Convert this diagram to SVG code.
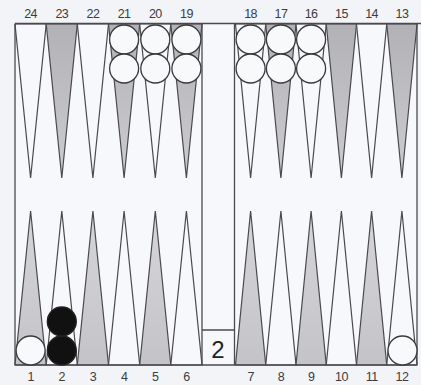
<svg xmlns="http://www.w3.org/2000/svg" width="421" height="385" viewBox="0 0 421 385">
<defs>
<linearGradient id="gt" x1="0" y1="0" x2="0" y2="1"><stop offset="0" stop-color="#b2b2b6"/><stop offset="1" stop-color="#cdcdd1"/></linearGradient>
<linearGradient id="gb" x1="0" y1="1" x2="0" y2="0"><stop offset="0" stop-color="#c4c4c8"/><stop offset="1" stop-color="#d6d6da"/></linearGradient>
</defs>
<style>
.w{fill:#f7f8fb;stroke:#4a4a4e;stroke-width:1.2}
.gt{fill:url(#gt);stroke:#4a4a4e;stroke-width:1.2}
.gb{fill:url(#gb);stroke:#4a4a4e;stroke-width:1.2}
.ln{stroke:#4a4a4e;stroke-width:1.3;fill:none}
.cw{fill:#f8f9fb;stroke:#3a3a3e;stroke-width:1.3}
.cb{fill:#111;stroke:#222;stroke-width:1.3}
.lab{font-family:"Liberation Sans",Arial,sans-serif;font-size:12.5px;fill:#3c3c40;text-anchor:middle;letter-spacing:-0.6px}
.die{font-family:"Liberation Sans",Arial,sans-serif;font-size:24px;fill:#222;text-anchor:middle}
</style>
<rect width="421" height="385" fill="#f2f4f8"/>
<g id="board">
<rect x="15" y="24" width="402" height="341" fill="#f7f8fb"/>
<polygon class="w" points="15,24 46.2,24 30.6,178"/>
<polygon class="gt" points="46.2,24 77.3,24 61.8,178"/>
<polygon class="w" points="77.3,24 108.5,24 92.9,178"/>
<polygon class="gt" points="108.5,24 139.7,24 124.1,178"/>
<polygon class="w" points="139.7,24 170.8,24 155.3,178"/>
<polygon class="gt" points="170.8,24 202,24 186.4,178"/>
<polygon class="w" points="235.5,24 265.75,24 250.6,178"/>
<polygon class="gt" points="265.75,24 296,24 280.9,178"/>
<polygon class="w" points="296,24 326.25,24 311.1,178"/>
<polygon class="gt" points="326.25,24 356.5,24 341.4,178"/>
<polygon class="w" points="356.5,24 386.75,24 371.6,178"/>
<polygon class="gt" points="386.75,24 417,24 401.9,178"/>
<polygon class="gb" points="15,365 46.2,365 30.6,211"/>
<polygon class="w" points="46.2,365 77.3,365 61.8,211"/>
<polygon class="gb" points="77.3,365 108.5,365 92.9,211"/>
<polygon class="w" points="108.5,365 139.7,365 124.1,211"/>
<polygon class="gb" points="139.7,365 170.8,365 155.3,211"/>
<polygon class="w" points="170.8,365 202,365 186.4,211"/>
<polygon class="gb" points="235.5,365 265.75,365 250.6,211"/>
<polygon class="w" points="265.75,365 296,365 280.9,211"/>
<polygon class="gb" points="296,365 326.25,365 311.1,211"/>
<polygon class="w" points="326.25,365 356.5,365 341.4,211"/>
<polygon class="gb" points="356.5,365 386.75,365 371.6,211"/>
<polygon class="w" points="386.75,365 417,365 401.9,211"/>
<line class="ln" x1="15" y1="23.5" x2="421" y2="23.5"/>
<line class="ln" x1="15" y1="365" x2="417" y2="365"/>
<line class="ln" x1="15" y1="24" x2="15" y2="365"/>
<line class="ln" x1="417" y1="24" x2="417" y2="365"/>
<line class="ln" x1="202" y1="24" x2="202" y2="365"/>
<line class="ln" x1="234.5" y1="24" x2="234.5" y2="365"/>
</g>
<g id="dice">
<line class="ln" x1="202" y1="330" x2="234.5" y2="330"/>
<text class="die" x="218" y="358">2</text>
</g>
<g id="checkers">
<circle class="cw" cx="124.1" cy="39.5" r="14.5"/>
<circle class="cw" cx="155.3" cy="39.5" r="14.5"/>
<circle class="cw" cx="186.4" cy="39.5" r="14.5"/>
<circle class="cw" cx="124.1" cy="68.5" r="14.5"/>
<circle class="cw" cx="155.3" cy="68.5" r="14.5"/>
<circle class="cw" cx="186.4" cy="68.5" r="14.5"/>
<circle class="cw" cx="250.6" cy="39.5" r="14.5"/>
<circle class="cw" cx="280.9" cy="39.5" r="14.5"/>
<circle class="cw" cx="311.1" cy="39.5" r="14.5"/>
<circle class="cw" cx="250.6" cy="68.5" r="14.5"/>
<circle class="cw" cx="280.9" cy="68.5" r="14.5"/>
<circle class="cw" cx="311.1" cy="68.5" r="14.5"/>
<circle class="cw" cx="30.6" cy="350.5" r="14.5"/>
<circle class="cb" cx="61.8" cy="350.5" r="14.5"/>
<circle class="cb" cx="61.8" cy="321.5" r="14.5"/>
<circle class="cw" cx="402.5" cy="350.5" r="14.5"/>
</g>
<g id="labels">
<text class="lab" x="30.6" y="18">24</text>
<text class="lab" x="61.8" y="18">23</text>
<text class="lab" x="92.9" y="18">22</text>
<text class="lab" x="124.1" y="18">21</text>
<text class="lab" x="155.3" y="18">20</text>
<text class="lab" x="186.4" y="18">19</text>
<text class="lab" x="250.6" y="18">18</text>
<text class="lab" x="280.9" y="18">17</text>
<text class="lab" x="311.1" y="18">16</text>
<text class="lab" x="341.4" y="18">15</text>
<text class="lab" x="371.6" y="18">14</text>
<text class="lab" x="401.9" y="18">13</text>
<text class="lab" x="30.6" y="381">1</text>
<text class="lab" x="61.8" y="381">2</text>
<text class="lab" x="92.9" y="381">3</text>
<text class="lab" x="124.1" y="381">4</text>
<text class="lab" x="155.3" y="381">5</text>
<text class="lab" x="186.4" y="381">6</text>
<text class="lab" x="250.6" y="381">7</text>
<text class="lab" x="280.9" y="381">8</text>
<text class="lab" x="311.1" y="381">9</text>
<text class="lab" x="341.4" y="381">10</text>
<text class="lab" x="371.6" y="381">11</text>
<text class="lab" x="401.9" y="381">12</text>
</g>
</svg>
